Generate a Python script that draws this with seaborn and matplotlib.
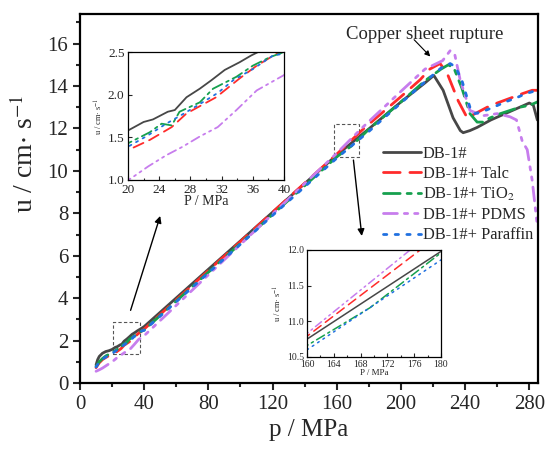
import numpy as np
import pandas as pd
import seaborn as sns
import matplotlib.pyplot as plt
from matplotlib.patches import Rectangle
from matplotlib.ticker import MultipleLocator, FormatStrFormatter

# pressure (MPa) / velocity (cm/s)
p_db = [10, 11, 12, 14, 16, 18, 20, 22, 23.2, 25.1, 26, 27.5, 29.2, 30.7, 32.4, 34.3, 35.8, 38, 40,
        60, 80, 100, 120, 140, 160, 180, 200, 215, 220.5, 226.3, 232.5, 237, 238.8, 243, 247.5,
        256, 265, 274, 280, 282.5, 285]
u_db = [0.85, 1.1, 1.25, 1.4, 1.48, 1.52, 1.58, 1.68, 1.71, 1.80, 1.82, 1.97, 2.07, 2.17, 2.29, 2.38, 2.46, 2.56, 2.66,
        4.01, 5.36, 6.7, 8.05, 9.4, 10.75, 11.98, 13.25, 14.15, 14.5, 13.8, 12.5, 11.9, 11.8, 11.9, 12.05,
        12.4, 12.7, 13.0, 13.2, 13.1, 12.4]

p_talc = [10, 12, 14, 16, 18, 20, 22.8, 25.6, 27.5, 31.3, 34.3, 36.5, 39.4, 40,
          60, 80, 100, 120, 140, 160, 176.9, 200, 212, 218, 224.4, 228.8, 235.7, 241.3, 245,
          253.7, 260, 269.3, 276, 281.8, 285]
u_talc = [0.72, 0.95, 1.1, 1.2, 1.28, 1.35, 1.47, 1.62, 1.78, 1.97, 2.19, 2.34, 2.5, 2.54,
          3.92, 5.3, 6.67, 8.05, 9.42, 10.79, 12.0, 13.5, 14.3, 14.8, 15.06, 14.6, 13.3, 12.5, 12.65,
          13.0, 13.2, 13.46, 13.65, 13.8, 13.8]

p_tio2 = [10, 12, 14, 16, 18, 20, 22.8, 24.3, 25.6, 26.6, 29.2, 30.9, 33.9, 36, 38.2, 40,
          60, 80, 100, 120, 140, 160, 169.4, 180, 200, 215, 225, 229.5, 233, 238, 243, 247.5,
          251, 255.6, 262, 268, 274, 280.5, 285]
u_tio2 = [0.78, 1.0, 1.15, 1.27, 1.35, 1.43, 1.56, 1.66, 1.64, 1.80, 1.91, 2.07, 2.21, 2.34, 2.44, 2.5,
          3.86, 5.22, 6.58, 7.94, 9.3, 10.66, 11.19, 11.96, 13.25, 14.25, 14.8, 15.0, 14.85, 13.9, 12.7, 12.3,
          12.3, 12.5, 12.7, 12.85, 13.0, 13.1, 13.25]

p_pdms = [10, 12, 14, 16, 18, 20.4, 22.6, 24.9, 27, 29.2, 31.5, 33.9, 36.5, 40,
          60, 80, 100, 120, 140, 160, 175.4, 200, 215, 226, 230.7, 233.5, 237, 243, 251,
          260, 268, 272, 275.6, 278.7, 281.8, 285]
u_pdms = [0.55, 0.62, 0.7, 0.8, 0.9, 1.02, 1.16, 1.29, 1.39, 1.51, 1.62, 1.82, 2.05, 2.23,
          3.66, 5.1, 6.53, 7.96, 9.4, 10.83, 12.0, 13.75, 14.8, 15.2, 15.67, 15.5, 14.26, 12.85, 12.6,
          12.7, 12.55, 12.4, 11.4, 11.0, 9.55, 7.4]

p_par = [10, 12, 14, 16, 18, 20, 22.5, 24.9, 27, 29.2, 31.5, 33.5, 36, 38.6, 40,
         60, 80, 100, 120, 140, 160, 180, 200, 215, 225, 230.7, 234, 238, 243, 246,
         251, 257.6, 265, 272.4, 278, 285]
u_par = [0.75, 0.98, 1.12, 1.22, 1.3, 1.39, 1.52, 1.66, 1.77, 1.89, 2.02, 2.17, 2.3, 2.46, 2.48,
         3.83, 5.19, 6.54, 7.9, 9.25, 10.6, 11.86, 13.2, 14.2, 14.85, 15.06, 14.9, 14.26, 13.0, 12.7,
         12.8, 13.0, 13.25, 13.46, 13.65, 13.8]

labels = ["DB-1#", "DB-1#+ Talc", "DB-1#+ TiO$_2$", "DB-1#+ PDMS", "DB-1#+ Paraffin"]
colors = ["#474747", "#ff2b2b", "#16a04e", "#c77ded", "#2070e0"]
styles = ["-", (0, (6, 3.5)), (0, (6, 2.5, 1.5, 2.5)), (0, (5, 2.5, 1.2, 2.5, 1.2, 2.5)), (0, (1.2, 3))]

# zoom windows: (p_min, p_max, u_min, u_max)
box1 = [20.6, 37.4, 1.37, 2.87]
box2 = [158, 174, 10.64, 12.19]

sns.set_style("ticks")
plt.rcParams['font.family'] = ['Liberation Serif', 'DejaVu Serif']
plt.rcParams['mathtext.fontset'] = 'stix'

series = [(p_db, u_db), (p_talc, u_talc), (p_tio2, u_tio2), (p_pdms, u_pdms), (p_par, u_par)]

fig = plt.figure(figsize=(5.48, 4.5), dpi=100)
ax = fig.add_axes([0.146, 0.149, 0.836, 0.82])


def draw(a, lw, with_label):
    for (p, u), lab, c, ls in zip(series, labels, colors, styles):
        df = pd.DataFrame({"p": p, "u": u})
        sns.lineplot(data=df, x="p", y="u", ax=a, color=c, lw=lw, linestyle=ls,
                     label=lab if with_label else None, legend=False,
                     solid_capstyle="round", dash_capstyle="round")


draw(ax, 2.0, True)
ax.set_xlim(0, 285.5)
ax.set_ylim(0, 17.4)
ax.xaxis.set_major_locator(MultipleLocator(40))
ax.xaxis.set_minor_locator(MultipleLocator(20))
ax.yaxis.set_major_locator(MultipleLocator(2))
ax.yaxis.set_minor_locator(MultipleLocator(1))
ax.tick_params(which="both", direction="out", width=1.5, labelsize=15, top=False, right=False)
ax.tick_params(which="major", length=5)
ax.tick_params(which="minor", length=3)
for s in ax.spines.values():
    s.set_linewidth(1.6)
    s.set_color("black")
ax.set_xlabel("p / MPa", fontsize=18)
ax.set_ylabel("u / cm$\\cdot$ s$^{-1}$", fontsize=20)
ax.yaxis.set_label_coords(-0.09, 0.62)

ax.legend(loc="upper left", bbox_to_anchor=(0.644, 0.665), frameon=False, fontsize=11.8,
          handlelength=2.3, handletextpad=0.1, labelspacing=0.25, borderpad=0)

for b in (box1, box2):
    ax.add_patch(Rectangle((b[0], b[2]), b[1] - b[0], b[3] - b[2], fill=False,
                           ls=(0, (3, 2)), lw=0.8, ec="#555555"))

arrow = dict(arrowstyle="-|>", color="black", lw=1.0, mutation_scale=10)
ax.annotate("", xy=(50.5, 8.0), xytext=(31, 3.3), arrowprops=arrow)
ax.annotate("", xy=(175.8, 6.8), xytext=(170.2, 10.64), arrowprops=arrow)
ax.annotate("", xy=(219.5, 15.3), xytext=(207, 16.28), arrowprops=dict(arrowstyle="-|>", color="black", lw=0.8, mutation_scale=8))
ax.text(215, 16.45, "Copper sheet rupture", ha="center", va="center", fontsize=13.5)

# inset 1
ax1 = fig.add_axes([0.2336, 0.6, 0.2847, 0.2844])
draw(ax1, 1.3, False)
ax1.set_xlim(20, 40)
ax1.set_ylim(1.0, 2.5)
ax1.xaxis.set_major_locator(MultipleLocator(4))
ax1.xaxis.set_minor_locator(MultipleLocator(2))
ax1.yaxis.set_major_locator(MultipleLocator(0.5))
ax1.yaxis.set_major_formatter(FormatStrFormatter("%.1f"))
ax1.tick_params(which="both", direction="in", labelsize=9.5, width=0.8)
ax1.tick_params(axis="x", pad=3)
ax1.tick_params(axis="y", pad=2.5)
ax1.tick_params(which="major", length=3)
ax1.tick_params(which="minor", length=1.5)
ax1.set_xlabel("P / MPa", fontsize=10, labelpad=-1)
ax1.set_ylabel("u / cm$\\cdot$ s$^{-1}$", fontsize=6, labelpad=2)

# inset 2
ax2 = fig.add_axes([0.5602, 0.2067, 0.2445, 0.2378])
draw(ax2, 1.1, False)
ax2.set_xlim(160, 180)
ax2.set_ylim(10.5, 12.0)
ax2.xaxis.set_major_locator(MultipleLocator(4))
ax2.xaxis.set_minor_locator(MultipleLocator(2))
ax2.yaxis.set_major_locator(MultipleLocator(0.5))
ax2.yaxis.set_major_formatter(FormatStrFormatter("%.1f"))
ax2.tick_params(which="both", direction="in", labelsize=7, width=0.8)
ax2.tick_params(axis="x", pad=2.5)
ax2.tick_params(axis="y", pad=2)
ax2.tick_params(which="major", length=3)
ax2.tick_params(which="minor", length=1.5)
ax2.set_xlabel("P / MPa", fontsize=6.5, labelpad=0)
ax2.set_ylabel("u / cm$\\cdot$ s$^{-1}$", fontsize=6, labelpad=2)

for a in (ax1, ax2):
    for s in a.spines.values():
        s.set_linewidth(0.9)
        s.set_color("black")

fig.savefig("out.png", dpi=100)
